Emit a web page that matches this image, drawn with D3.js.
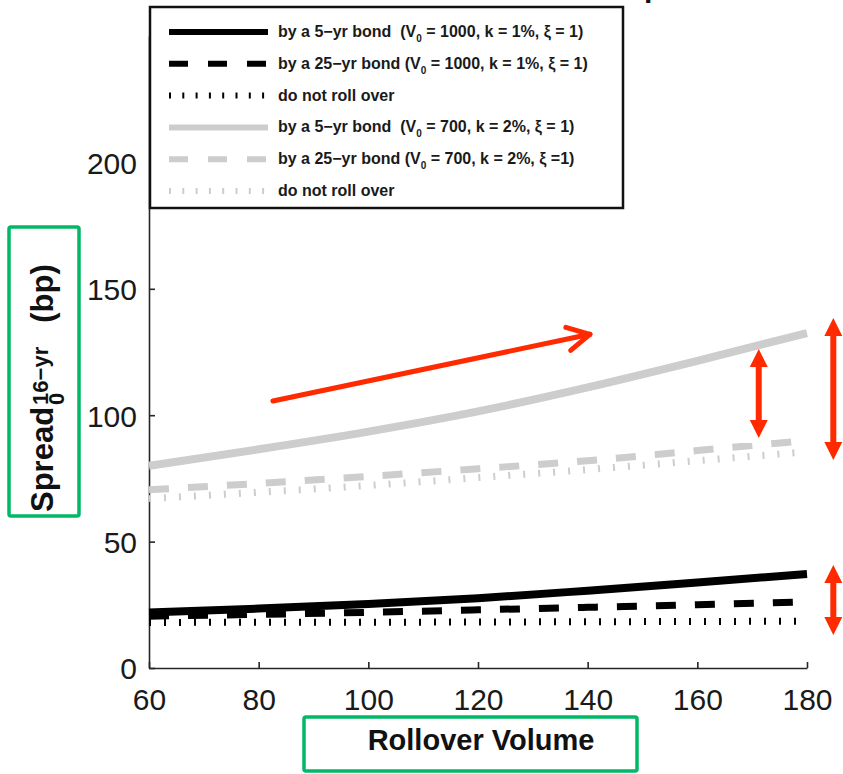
<!DOCTYPE html>
<html>
<head>
<meta charset="utf-8">
<script src="https://cdn.jsdelivr.net/npm/d3@7"></script>
<style>
body { margin: 0; background: #fff; }
svg { display: block; font-family: "Liberation Sans", Arial, sans-serif; }
</style>
</head>
<body>
<svg id="chart" width="843" height="774"></svg>
<script>
// rollover volume on the x axis
const volumes = [60, 80, 100, 120, 140, 160, 180]
const xTicks = [60, 80, 100, 120, 140, 160, 180]
const yTicks = [0, 50, 100, 150, 200]

// spread in bp
const fiveYr1000 = [22, 23.5, 25.3, 27.6, 30.6, 33.8, 37.2]
const twentyFiveYr1000 = [20.5, 21.2, 22, 23, 24, 25, 26.2]
const noRoll1000 = [18, 18.1, 18.1, 18.2, 18.3, 18.4, 18.5]
const fiveYr700 = [80, 86.5, 93.5, 101.5, 111, 121.5, 132.5]
const twentyFiveYr700 = [70.5, 73, 75.8, 78.8, 82, 86, 90]
const noRoll700 = [67, 69.5, 72.2, 75.3, 78.5, 82, 85.5]

// legend text: [before subscript, subscript, after subscript]
const legendLabels = [
    ["by a 5\u2212yr bond  (V", "0", " = 1000, k = 1%, \u03be = 1)"],
    ["by a 25\u2212yr bond (V", "0", " = 1000, k = 1%, \u03be = 1)"],
    ["do not roll over", "", ""],
    ["by a 5\u2212yr bond  (V", "0", " = 700, k = 2%, \u03be = 1)"],
    ["by a 25\u2212yr bond (V", "0", " = 700, k = 2%, \u03be =1)"],
    ["do not roll over", "", ""]
]

// red annotation arrows, in data units
const trendArrow = {from: [82.6, 105.6], to: [140.4, 132]}
const gapArrows = [
    {x: 171.2, top: 126.2, bottom: 91},
    {x: 184.8, top: 138.4, bottom: 82.3},
    {x: 184.8, top: 40.7, bottom: 13.1}
]

const BLACK = "#000"
const GRAY = "#cdcdcd"
const RED = "#ff2a00"
const GREEN = "#00b865"

// line styles for each series
const styles = {
    solid: {width: 8, dash: null},
    dashed: {width: 7, dash: "20 19"},
    dotted: {width: 7, dash: "2 13"}
}

const series = [
    {values: fiveYr1000, color: BLACK, style: "solid"},
    {values: twentyFiveYr1000, color: BLACK, style: "dashed"},
    {values: noRoll1000, color: BLACK, style: "dotted"},
    {values: fiveYr700, color: GRAY, style: "solid"},
    {values: twentyFiveYr700, color: GRAY, style: "dashed"},
    {values: noRoll700, color: GRAY, style: "dotted"}
]

const svg = d3.select("#chart")

const x = d3.scaleLinear().domain([60, 180]).range([149, 807])
const y = d3.scaleLinear().domain([0, 250]).range([668, 36])

// cut-off title fragment at the very top
svg.append("text")
    .attr("x", 644).attr("y", -3)
    .attr("font-size", 30).attr("font-weight", "bold")
    .attr("fill", "#111")
    .text("p")

// axes
const xAxis = svg.append("g")
    .attr("transform", `translate(0,${y(0)})`)
    .call(d3.axisBottom(x).tickValues(xTicks).tickSizeInner(-6).tickSizeOuter(0))
xAxis.selectAll("text").attr("y", 42).attr("dy", null)

const yAxis = svg.append("g")
    .attr("transform", `translate(${x(60)},0)`)
    .call(d3.axisLeft(y).tickValues(yTicks).tickSizeInner(-6).tickSizeOuter(0))
yAxis.selectAll("text").attr("x", -12).attr("dy", "0.36em")

svg.selectAll(".domain, .tick line").attr("stroke", "#262626").attr("stroke-width", 1.6)
svg.selectAll(".tick text")
    .attr("font-size", 30)
    .attr("font-family", "'Liberation Sans', Arial, sans-serif")
    .attr("fill", "#1a1a1a")

// data lines
const line = d3.line()
    .x((d, i) => x(volumes[i]))
    .y(d => y(d))
    .curve(d3.curveMonotoneX)

svg.append("g").selectAll("path")
    .data(series)
    .join("path")
        .attr("d", d => line(d.values))
        .attr("fill", "none")
        .attr("stroke", d => d.color)
        .attr("stroke-width", d => styles[d.style].width)
        .attr("stroke-dasharray", d => styles[d.style].dash)

// legend
const legend = svg.append("g").attr("transform", "translate(150,7)")
legend.append("rect")
    .attr("width", 473).attr("height", 201)
    .attr("fill", "#fff").attr("stroke", "#111").attr("stroke-width", 2.5)

const rows = legend.selectAll("g.row")
    .data(series)
    .join("g")
        .attr("class", "row")
        .attr("transform", (d, i) => `translate(0,${25 + i * 31.8})`)

rows.append("line")
    .attr("x1", 19).attr("x2", 118)
    .attr("stroke", d => d.color)
    .attr("stroke-width", 6)
    .attr("stroke-dasharray", d => d.style == "dashed" ? "19 20" : d.style == "dotted" ? "2 11.3" : null)

const labels = rows.append("text")
    .attr("x", 128).attr("y", 5)
    .attr("font-size", 16).attr("font-weight", "bold")
    .attr("fill", "#1a1a1a")
    .style("white-space", "pre")
labels.append("tspan").text((d, i) => legendLabels[i][0])
labels.append("tspan").attr("dy", 5).attr("font-size", 10).text((d, i) => legendLabels[i][1])
labels.append("tspan").attr("dy", -5).text((d, i) => legendLabels[i][2])

// red arrows
const ann = svg.append("g").attr("fill", RED).attr("stroke", RED)

let [x1, y1] = [x(trendArrow.from[0]), y(trendArrow.from[1])]
let [x2, y2] = [x(trendArrow.to[0]), y(trendArrow.to[1])]
ann.append("line")
    .attr("x1", x1).attr("y1", y1).attr("x2", x2).attr("y2", y2)
    .attr("stroke-width", 5).attr("stroke-linecap", "round")
let back = Math.atan2(y1 - y2, x1 - x2)
for (let s of [-1, 1]) {
    let a = back + s * 28 * Math.PI / 180
    ann.append("line")
        .attr("x1", x2).attr("y1", y2)
        .attr("x2", x2 + 25 * Math.cos(a)).attr("y2", y2 + 25 * Math.sin(a))
        .attr("stroke-width", 5).attr("stroke-linecap", "round")
}

gapArrows.forEach(a => {
    let cx = x(a.x), top = y(a.top), bot = y(a.bottom)
    let hw = 9, hl = 18
    ann.append("line")
        .attr("x1", cx).attr("x2", cx)
        .attr("y1", top + hl - 1).attr("y2", bot - hl + 1)
        .attr("stroke-width", 6)
    ann.append("path")
        .attr("stroke", "none")
        .attr("d", `M${cx},${top}L${cx + hw},${top + hl}L${cx - hw},${top + hl}Z`)
    ann.append("path")
        .attr("stroke", "none")
        .attr("d", `M${cx},${bot}L${cx + hw},${bot - hl}L${cx - hw},${bot - hl}Z`)
})

// green highlight boxes with axis titles
svg.append("rect")
    .attr("x", 9).attr("y", 227).attr("width", 70).attr("height", 289).attr("rx", 2)
    .attr("fill", "none").attr("stroke", GREEN).attr("stroke-width", 3.5)
svg.append("rect")
    .attr("x", 304).attr("y", 717).attr("width", 333).attr("height", 54).attr("rx", 2)
    .attr("fill", "none").attr("stroke", GREEN).attr("stroke-width", 3.5)

svg.append("text")
    .attr("x", 481).attr("y", 750)
    .attr("text-anchor", "middle")
    .attr("font-size", 29).attr("font-weight", "bold")
    .attr("fill", "#111")
    .text("Rollover Volume")

const yTitle = svg.append("text")
    .attr("transform", "translate(53,512) rotate(-90)")
    .attr("font-weight", "bold").attr("fill", "#111")
    .style("white-space", "pre")
const main = yTitle.append("tspan").attr("font-size", 31).text("Spread")
let w = main.node().getComputedTextLength()
yTitle.append("tspan").attr("font-size", 22).attr("dx", 2).attr("dy", 11).text("0")
const sup = yTitle.append("tspan").attr("font-size", 22).attr("x", w + 2).attr("dy", -16).text("16\u2212yr")
let sw = sup.node().getComputedTextLength()
yTitle.append("tspan").attr("font-size", 31).attr("x", w + 2 + sw + 24).attr("dy", 5).text("(bp)")
</script>
</body>
</html>
